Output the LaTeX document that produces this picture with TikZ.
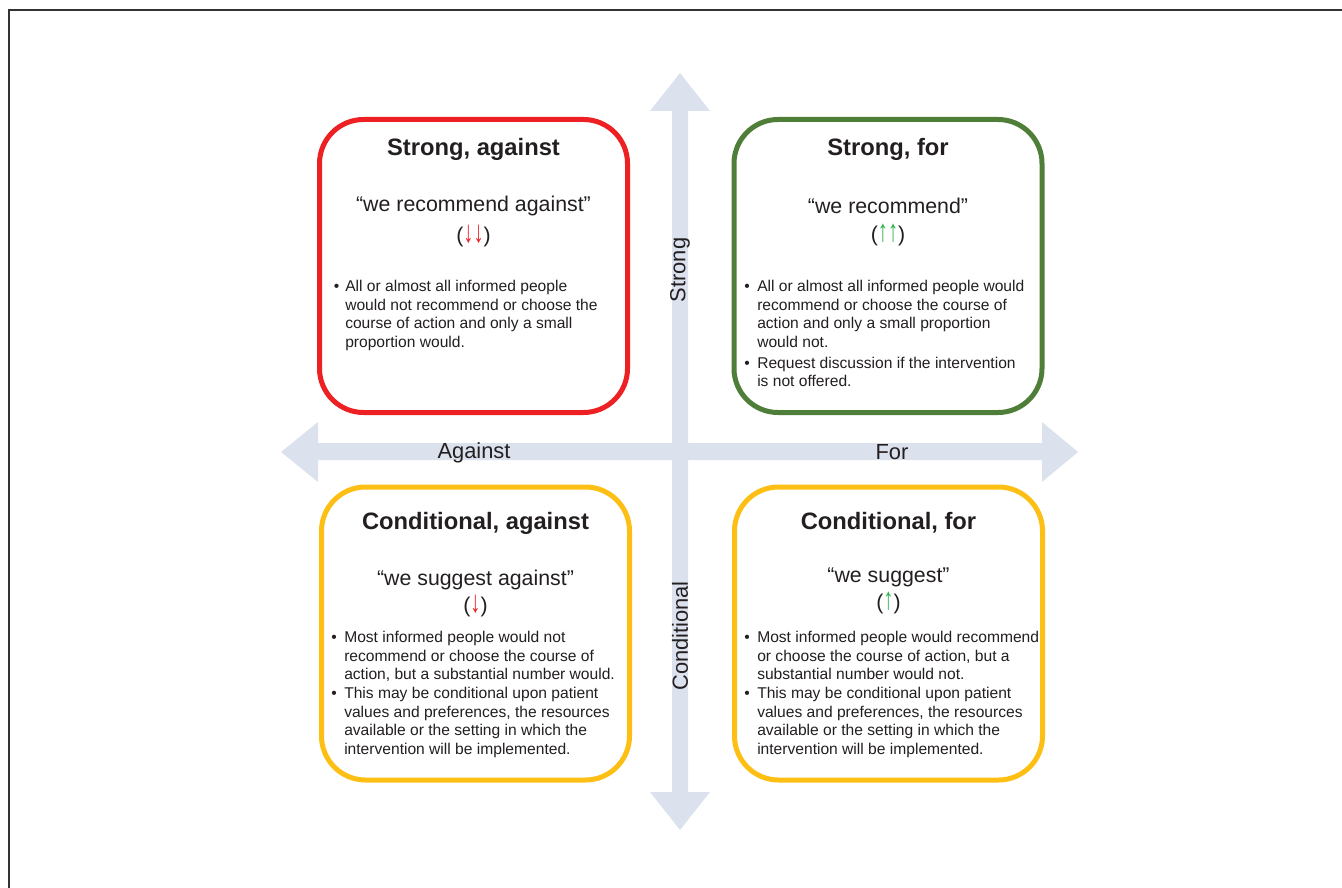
\documentclass[tikz,border=0pt]{standalone}
\usepackage{fontspec}
\setmainfont{Liberation Sans}
\definecolor{axisc}{HTML}{DCE1EE}
\definecolor{cred}{HTML}{ED2024}
\definecolor{cgreen}{HTML}{4E7E38}
\definecolor{cyellow}{HTML}{FDBF14}
\definecolor{agreen}{HTML}{2BB24C}
\definecolor{ared}{HTML}{ED2024}
\definecolor{txt}{HTML}{231F20}
\definecolor{framec}{HTML}{333333}
\newcommand{\tallarr}[2]{\textcolor{#1}{\raisebox{-0.5pt}{\scalebox{0.95}[1.45]{#2}}}}
\begin{document}
\begin{tikzpicture}[x=0.75pt,y=-0.75pt,
  box/.style={draw, line width=3.75pt, rounded corners=33pt, minimum width=231pt, minimum height=219.75pt, fill=white, inner sep=0pt},
  ttl/.style={font=\fontsize{17.8}{21}\selectfont\bfseries, text=txt, inner sep=0pt},
  quo/.style={font=\fontsize{16}{19}\selectfont, text=txt, inner sep=0pt},
  body/.style={font=\fontsize{11.7}{14}\selectfont, text=txt, align=left, anchor=north west, inner sep=0pt},
  axlab/.style={font=\fontsize{16.4}{19}\selectfont, text=txt, inner sep=1pt}]
\useasboundingbox (0,0) rectangle (1342,888);
% frame
\draw[framec, line width=1.1pt] (9,888) -- (9,10) -- (1342,10);
% axes
\fill[axisc] (672,111) -- (650,111) -- (680,73) -- (710,111) -- (688,111) -- (688,792) -- (710,792) -- (680,830) -- (650,792) -- (672,792) -- cycle;
\fill[axisc] (318,443) -- (318,422) -- (281,452) -- (318,482) -- (318,460) -- (1042,460) -- (1042,482) -- (1078,452) -- (1042,422) -- (1042,443) -- cycle;
% axis labels
\node[axlab] (lagainst) at (474,453) {Against};
\node[axlab] (lfor) at (892,452) {For};
\node[axlab, rotate=90] (lstrong) at (680,270) {Strong};
\node[axlab, rotate=90] (lcond) at (680,636) {Conditional};
% boxes
\node[box, draw=cred] (sa) at (473.5,266) {};
\node[box, draw=cgreen] (sf) at (888,266) {};
\node[box, draw=cyellow] (ca) at (475.5,633.5) {};
\node[box, draw=cyellow] (cf) at (888.5,633.5) {};
% strong against
\node[ttl] (sat) at (473.5,149) {Strong, against};
\node[quo] (saq) at (473.5,206) {“we recommend against”};
\node[quo] (sas) at (473.5,236) {(\tallarr{ared}{↓↓})};
\node[body] (sab) at (345,280) {\llap{\textbullet\hspace{4.5pt}}All or almost all informed people\\
would not recommend or choose the\\
course of action and only a small\\
proportion would.};
% strong for
\node[ttl] (sft) at (888,149) {Strong, for};
\node[quo] (sfq) at (888,206) {“we recommend”};
\node[quo] (sfs) at (888,235) {(\tallarr{agreen}{↑↑})};
\node[body] (sfb) at (757,280) {\llap{\textbullet\hspace{5.5pt}}All or almost all informed people would\\
recommend or choose the course of\\
action and only a small proportion\\
would not.\\[1.5pt]
\llap{\textbullet\hspace{5.5pt}}Request discussion if the intervention\\
is not offered.};
% conditional against
\node[ttl] (cat) at (475.5,523) {Conditional, against};
\node[quo] (caq) at (475.5,580) {“we suggest against”};
\node[quo] (cas) at (475.5,606) {(\tallarr{ared}{↓})};
\node[body] (cab) at (344,631) {\llap{\textbullet\hspace{5.5pt}}Most informed people would not\\
recommend or choose the course of\\
action, but a substantial number would.\\
\llap{\textbullet\hspace{5.5pt}}This may be conditional upon patient\\
values and preferences, the resources\\
available or the setting in which the\\
intervention will be implemented.};
% conditional for
\node[ttl] (cft) at (888.5,523) {Conditional, for};
\node[quo] (cfq) at (888.5,577) {“we suggest”};
\node[quo] (cfs) at (888.5,603) {(\tallarr{agreen}{↑})};
\node[body] (cfb) at (757,631) {\llap{\textbullet\hspace{5.5pt}}Most informed people would recommend\\
or choose the course of action, but a\\
substantial number would not.\\
\llap{\textbullet\hspace{5.5pt}}This may be conditional upon patient\\
values and preferences, the resources\\
available or the setting in which the\\
intervention will be implemented.};
\end{tikzpicture}
\end{document}
